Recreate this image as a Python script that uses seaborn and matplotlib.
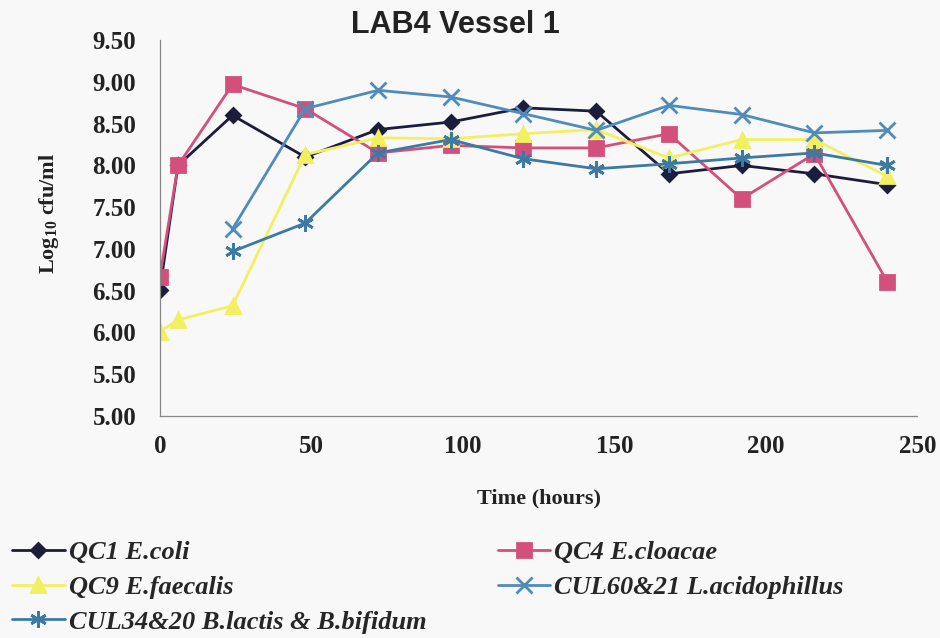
import numpy as np
import pandas as pd
import seaborn as sns
import matplotlib.pyplot as plt

# sampling times (hours)
hours = [0, 6, 24, 48, 72, 96, 120, 144, 168, 192, 216, 240]
hours_probiotic = [24, 48, 72, 96, 120, 144, 168, 192, 216, 240]

# log10 cfu/ml
qc1_ecoli = [6.51, 8.00, 8.60, 8.10, 8.43, 8.52, 8.69, 8.65, 7.90, 8.00, 7.90, 7.77]
qc4_ecloacae = [6.66, 8.00, 8.97, 8.68, 8.15, 8.24, 8.21, 8.21, 8.38, 7.60, 8.14, 6.61]
qc9_efaecalis = [6.01, 6.15, 6.32, 8.13, 8.33, 8.32, 8.38, 8.43, 8.09, 8.31, 8.31, 7.87]
cul60_lacid = [7.24, 8.68, 8.90, 8.82, 8.62, 8.42, 8.72, 8.61, 8.39, 8.42]
cul34_blactis = [6.97, 7.31, 8.15, 8.31, 8.08, 7.96, 8.02, 8.09, 8.15, 8.00]

labels = ["QC1 E.coli", "QC4 E.cloacae", "QC9 E.faecalis",
          "CUL60&21 L.acidophillus", "CUL34&20 B.lactis & B.bifidum"]

sns.set_style("white")
plt.rcParams["font.family"] = ["Liberation Serif", "DejaVu Serif"]

fig, ax = plt.subplots(figsize=(9.4, 6.38), dpi=100)
fig.patch.set_facecolor("#f8f8f8")
ax.set_facecolor("#f8f8f8")
fig.subplots_adjust(left=0.170, right=0.976, bottom=0.348, top=0.937)

series = [
    (hours, qc1_ecoli, "#1c1c3c", "D", 7),
    (hours, qc4_ecloacae, "#d4507c", "s", 10),
    (hours, qc9_efaecalis, "#f2f060", "^", 10),
    (hours_probiotic, cul60_lacid, "#4f8cbc", "x", 11),
    (hours_probiotic, cul34_blactis, "#3c7aa4", (6, 2, 0), 12),
]

handles = []
for (x, y, col, mk, ms), lab in zip(series, labels):
    sns.lineplot(x=x, y=y, ax=ax, color=col, marker=mk, markersize=ms,
                 markeredgecolor=col, markeredgewidth=2, linewidth=2,
                 label=lab, legend=False)
    handles.append(ax.lines[-1])

ax.set_xlim(0, 250)
ax.set_ylim(5.0, 9.5)
ax.set_xticks(np.arange(0, 251, 50))
ax.set_yticks(np.arange(5.0, 9.51, 0.5))
ax.set_yticklabels([f"{v:.2f}" for v in np.arange(5.0, 9.51, 0.5)])
ax.tick_params(axis="y", direction="out", length=5, width=0.8, color="#777777",
               labelsize=18, pad=12)
ax.tick_params(axis="x", direction="in", length=5, width=0.8, color="#777777",
               labelsize=18, pad=14)
for t in ax.get_xticklabels() + ax.get_yticklabels():
    t.set_fontweight("bold")
    t.set_color("#222222")

sns.despine(ax=ax)
for s in ["left", "bottom"]:
    ax.spines[s].set_color("#888888")
    ax.spines[s].set_linewidth(0.9)

ax.set_xlabel("Time (hours)", fontsize=16, fontweight="bold", labelpad=22, color="#222222")
ax.set_ylabel("Log$_{\\mathregular{10}}$ cfu/ml", fontsize=16, fontweight="bold",
              color="#222222")
ax.yaxis.set_label_coords(-0.131, 0.54)
fig.text(455 / 940, 1 - 25 / 638, "LAB4 Vessel 1", fontsize=22, fontweight="bold",
         family="Liberation Sans", color="#222222", ha="center", va="center")

order = [0, 2, 4, 1, 3]
fig.legend([handles[i] for i in order], [labels[i] for i in order],
           loc="upper left", bbox_to_anchor=(12 / 940, 1 - 541 / 638), ncol=2,
           frameon=False, borderaxespad=0, borderpad=0,
           columnspacing=2.7, handlelength=2.0, handletextpad=0.15,
           labelspacing=0.42,
           prop={"family": "Liberation Serif", "weight": "bold", "style": "italic", "size": 19})

fig.savefig("out.png", dpi=100, facecolor=fig.get_facecolor())
